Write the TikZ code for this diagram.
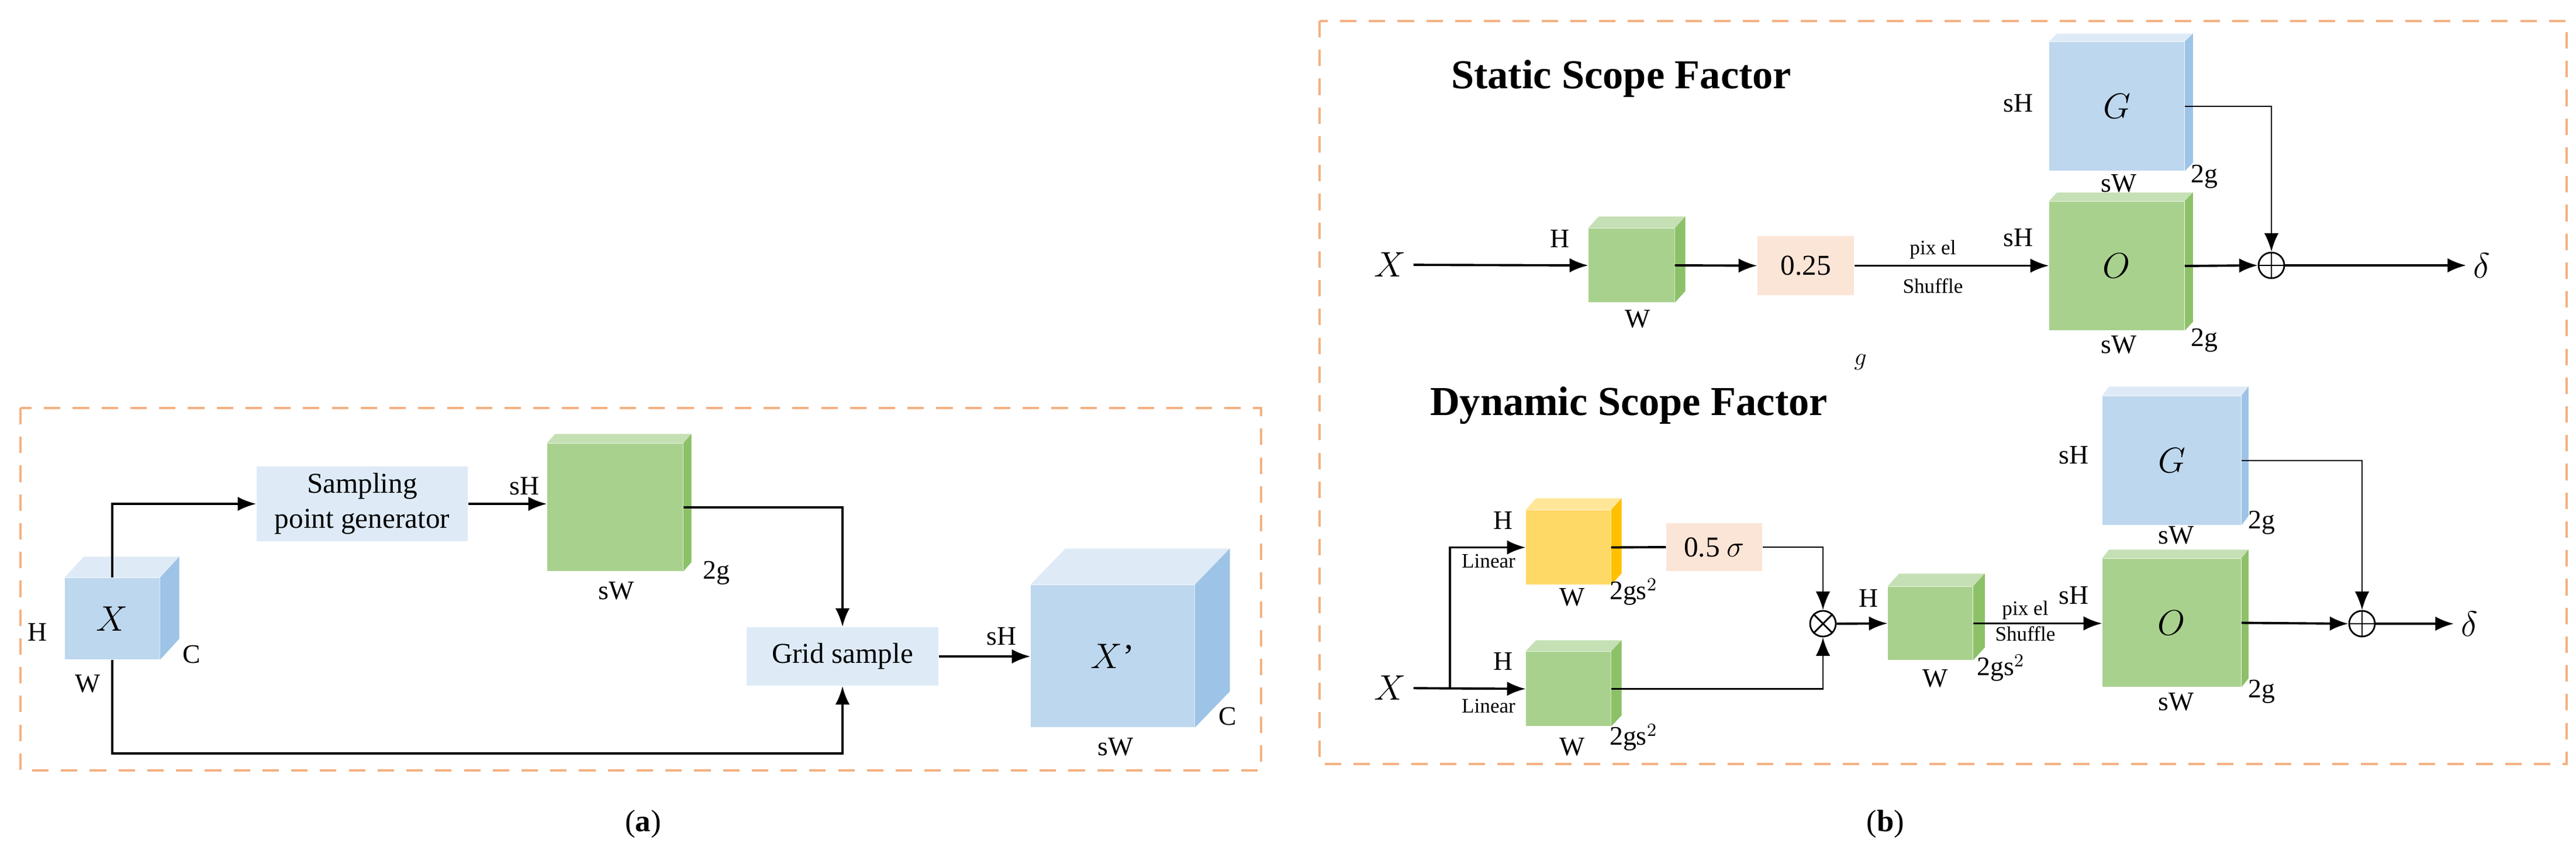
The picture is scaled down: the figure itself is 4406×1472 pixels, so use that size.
\documentclass[tikz,border=0pt]{standalone}
\usepackage{fontspec}
\setmainfont{Liberation Serif}
\usepackage{tikz}
\usetikzlibrary{positioning,calc,arrows.meta}
\definecolor{bluefront}{HTML}{BDD7EE}
\definecolor{bluetop}{HTML}{DEEBF7}
\definecolor{blueside}{HTML}{9DC3E6}
\definecolor{greenfront}{HTML}{A9D18E}
\definecolor{greentop}{HTML}{C5E0B4}
\definecolor{greenside}{HTML}{8CC168}
\definecolor{yelfront}{HTML}{FFD966}
\definecolor{yeltop}{HTML}{FFE699}
\definecolor{yelside}{HTML}{FFC000}
\definecolor{opbox}{HTML}{DEEBF7}
\definecolor{scalebox}{HTML}{FBE5D6}
\definecolor{frame}{HTML}{F4B183}
\tikzstyle{arrow} = [line width=1.1pt,-{Latex[length=9pt,width=7pt]}]
\tikzstyle{line} = [line width=1.1pt]
\tikzstyle{lbl} = [font=\fontsize{13}{15}\selectfont, inner sep=0pt]
\tikzstyle{small} = [font=\fontsize{10}{12}\selectfont, inner sep=0pt]
\tikzstyle{title} = [font=\fontsize{20}{24}\selectfont\bfseries, inner sep=0pt]
\tikzstyle{op} = [circle, draw, line width=0.8pt, minimum size=44*0.01cm, inner sep=0pt]
\tikzstyle{frameline} = [draw=frame, line width=0.9pt, dash pattern=on 8pt off 6pt]
% feature block: name, centre, width, height, front, top, side, dx, dy
\newcommand{\featblk}[9]{
  \node[fill=#5, minimum width={#3*0.01cm}, minimum height={#4*0.01cm}, inner sep=0pt,
        font=\fontsize{17}{20}\selectfont] (#1) at (#2) {};
  \fill[#6] (#1.north west) -- ++(#8,-#9) -- ([shift={(#8,-#9)}]#1.north east) -- (#1.north east) -- cycle;
  \fill[#7] (#1.north east) -- ++(#8,-#9) -- ([shift={(#8,-#9)}]#1.south east) -- (#1.south east) -- cycle;
}
\begin{document}
\begin{tikzpicture}[x=0.01cm, y=-0.01cm]
        \useasboundingbox (0,0) rectangle (4406,1472);
        % (a)
        \draw[frameline] (35,698) rectangle (2157,1318);
        \featblk{xa}{192,1058.5}{162}{139}{bluefront}{bluetop}{blueside}{33}{36}
        \featblk{ga}{1052,868}{232}{218}{greenfront}{greentop}{greenside}{14}{16}
        \featblk{xp}{1903,1122.5}{280}{243}{bluefront}{bluetop}{blueside}{60}{62}
        \node[fill=opbox, minimum width=3.61cm, minimum height=1.26cm, align=center,
              font=\fontsize{14}{17}\selectfont] (samp) at (619.5,862) {Sampling\\point generator};
        \node[fill=opbox, minimum width=3.28cm, minimum height=1cm,
              font=\fontsize{14}{17}\selectfont] (grid) at (1441,1123) {Grid sample};
        \node[font=\fontsize{17}{20}\selectfont] (xatxt) at (xa) {$X$};
        \node[font=\fontsize{17}{20}\selectfont] (xptxt) at (xp) {$X$'};
        \draw[arrow] (xa.north) |- (samp.west);
        \draw[arrow] (samp.east) -- (samp.east -| ga.west);
        \draw[arrow] (ga.east) -| (grid.north);
        \draw[arrow] (xa.south) -- ++(0,160) -| (grid.south);
        \draw[arrow] (grid.east) -- (grid.east -| xp.west);
        \node[lbl] (ha) at (64,1082) {H};
        \node[lbl] (ca) at (328,1120) {C};
        \node[lbl] (wa) at (150,1170) {W};
        \node[lbl] (sha) at (897,832) {sH};
        \node[lbl] (gga) at (1225,980) {2g};
        \node[lbl] (swa) at (1054,1011) {sW};
        \node[lbl] (shp) at (1713,1089) {sH};
        \node[lbl] (cp) at (2100,1226) {C};
        \node[lbl] (swp) at (1908,1278) {sW};
        \node[font=\fontsize{15}{18}\selectfont] (capa) at (1100,1410) {(\textbf{a})};
        % (b) static
        \draw[frameline] (2257,36) rectangle (4390,1307);
        \node[title] (tstat) at (2773,135) {Static Scope Factor};
        \featblk{gs}{2790.5,454}{147}{126}{greenfront}{greentop}{greenside}{18}{20}
        \featblk{Gs}{3620.5,182}{231}{220}{bluefront}{bluetop}{blueside}{14}{14}
        \featblk{Os}{3620.5,455}{231}{220}{greenfront}{greentop}{greenside}{14}{15}
        \node[fill=scalebox, minimum width=1.65cm, minimum height=1.01cm,
              font=\fontsize{14}{17}\selectfont] (q25) at (3088.5,454.5) {0.25};
        \node[font=\fontsize{17}{20}\selectfont] (Gstxt) at (Gs) {$G$};
        \node[font=\fontsize{17}{20}\selectfont] (Ostxt) at (Os) {$O$};
        \node[font=\fontsize{17}{20}\selectfont] (xs) at (2378,453) {$X$};
        \node[font=\fontsize{17}{20}\selectfont, anchor=west] (ds) at (4218,454) {$\delta$};
        \node[op] (sum1) at (3885,454) {};
        \draw[line width=0.8pt] (sum1.north) -- (sum1.south) (sum1.west) -- (sum1.east);
        \draw[arrow] (xs) -- (gs.west);
        \draw[arrow] (gs.east) -- (q25.west);
        \draw[arrow] (q25.east) -- (q25.east -| Os.west);
        \draw[arrow] (Os.east) -- (sum1.west);
        \draw[arrow] (sum1.east) -- (ds.west);
        \draw[arrow, line width=0.8pt] (Gs.east) -| (sum1.north);
        \node[lbl] (hs) at (2668,409) {H};
        \node[lbl] (ws) at (2801,546) {W};
        \node[small] (pxs) at (3306,427) {pix el};
        \node[small] (shs) at (3306,489) {Shuffle};
        \node[lbl] (shG) at (3452,177) {sH};
        \node[lbl] (ggG) at (3770,302) {2g};
        \node[lbl] (swG) at (3624,314) {sW};
        \node[lbl] (shO) at (3452,407) {sH};
        \node[lbl] (swO) at (3624,590) {sW};
        \node[lbl] (ggO) at (3770,582) {2g};
        \node[lbl] (gs2) at (3182,620) {$g$};
        % (b) dynamic
        \node[title] (tdyn) at (2786,694) {Dynamic Scope Factor};
        \featblk{yel}{2682.5,936.5}{145}{127}{yelfront}{yeltop}{yelside}{18}{20}
        \featblk{gd}{2682.5,1178.5}{145}{127}{greenfront}{greentop}{greenside}{18}{19}
        \featblk{gm}{3301.5,1066.5}{145}{125}{greenfront}{greentop}{greenside}{20}{22}
        \featblk{Gd}{3714.5,788}{237}{220}{bluefront}{bluetop}{blueside}{12}{16}
        \featblk{Od}{3714.5,1065.5}{237}{219}{greenfront}{greentop}{greenside}{12}{15}
        \node[fill=scalebox, minimum width=1.64cm, minimum height=0.82cm,
              font=\fontsize{14}{17}\selectfont] (s05) at (2932,936) {0.5 $\sigma$};
        \node[font=\fontsize{17}{20}\selectfont] (Gdtxt) at (Gd) {$G$};
        \node[font=\fontsize{17}{20}\selectfont] (Odtxt) at (Od) {$O$};
        \node[font=\fontsize{17}{20}\selectfont] (xd) at (2378,1177) {$X$};
        \node[font=\fontsize{17}{20}\selectfont, anchor=west] (dd) at (4197,1067) {$\delta$};
        \node[op] (mul) at (3118,1067) {};
        \draw[line width=0.8pt] (mul.north west) -- (mul.south east) (mul.north east) -- (mul.south west);
        \node[op] (sum2) at (4040,1067) {};
        \draw[line width=0.8pt] (sum2.north) -- (sum2.south) (sum2.west) -- (sum2.east);
        \coordinate (br) at (2480,1178);
        \draw[arrow] (xd) -- (gd.west);
        \draw[arrow] (br) |- (yel.west);
        \draw[line] (yel.east) -- (s05.west);
        \draw[arrow, line width=0.8pt] (s05.east) -| (mul.north);
        \draw[arrow, line width=0.8pt] (gd.east) -| (mul.south);
        \draw[arrow] (mul.east) -- (gm.west);
        \draw[arrow] (gm.east) -- (gm.east -| Od.west);
        \draw[arrow] (Od.east) -- (sum2.west);
        \draw[arrow] (sum2.east) -- (dd.west);
        \draw[arrow, line width=0.8pt] (Gd.east) -| (sum2.north);
        \node[lbl] (hy) at (2571,891) {H};
        \node[small] (liny) at (2546,960) {Linear};
        \node[lbl] (wy) at (2689,1022) {W};
        \node[lbl] (cy) at (2794,1013) {2gs$^2$};
        \node[lbl] (hg) at (2571,1132) {H};
        \node[small] (ling) at (2546,1208) {Linear};
        \node[lbl] (wg) at (2689,1278) {W};
        \node[lbl] (cg) at (2794,1262) {2gs$^2$};
        \node[lbl] (hm) at (3196,1024) {H};
        \node[lbl] (wm) at (3310,1161) {W};
        \node[lbl] (cm) at (3422,1143) {2gs$^2$};
        \node[small] (pxd) at (3464,1044) {pix el};
        \node[small] (shd) at (3464,1084) {Shuffle};
        \node[lbl] (shGd) at (3547,779) {sH};
        \node[lbl] (ggGd) at (3868,894) {2g};
        \node[lbl] (swGd) at (3722,916) {sW};
        \node[lbl] (shOd) at (3547,1019) {sH};
        \node[lbl] (swOd) at (3722,1201) {sW};
        \node[lbl] (ggOd) at (3868,1183) {2g};
        \node[font=\fontsize{15}{18}\selectfont] (capb) at (3225,1410) {(\textbf{b})};
    \end{tikzpicture}
\end{document}
